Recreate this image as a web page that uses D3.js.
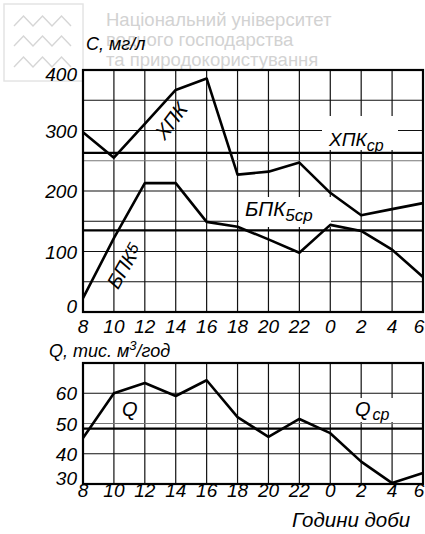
<!DOCTYPE html>
<html>
<head>
<meta charset="utf-8">
<script src="https://cdn.jsdelivr.net/npm/d3@7"></script>
<style>
  body { margin: 0; background: #fff; }
  svg { display: block; }
  text { font-family: "Liberation Sans", Arial, sans-serif; }
</style>
</head>
<body>
<script>
var hours = ["8", "10", "12", "14", "16", "18", "20", "22", "0", "2", "4", "6"];
var hpk = [297, 255, 311, 367, 386, 227, 232, 247, 197, 160, 170, 180];
var bpk = [23, 122, 213, 213, 149, 141, 120, 98, 144, 134, 103, 58];
var q = [45.2, 60, 63.4, 59.1, 64.3, 52.1, 45.6, 51.5, 46.8, 37.4, 30.3, 33.6];
var hpkMean = 263, bpkMean = 135, qMean = 48.3;
var cTicks = [0, 100, 200, 300, 400];
var cGrid = [50, 100, 150, 200, 250, 300, 350];
var qTicks = [30, 40, 50, 60];
var qGrid = [40, 50, 60];
var watermark = ["Національний університет", "водного господарства", "та природокористування"];

var width = 425, height = 534;
var svg = d3.select("body").append("svg")
    .attr("width", width)
    .attr("height", height);

// watermark
var wm = svg.append("g").attr("fill", "#d2d2d2");
wm.append("rect")
    .attr("x", 4).attr("y", 4).attr("width", 79).attr("height", 77)
    .attr("fill", "none").attr("stroke", "#e4e4e4").attr("stroke-width", 1.5);
[22, 42, 63].forEach(function (yy) {
    var pts = [];
    for (var i = 0; i <= 6; i++) pts.push([14 + i * 9.5, yy + (i % 2 ? -6 : 4)]);
    wm.append("path").attr("d", d3.line()(pts))
        .attr("fill", "none").attr("stroke", "#d6d6d6").attr("stroke-width", 1.4);
});
wm.selectAll("text.wm")
    .data(watermark)
    .join("text")
    .attr("class", "wm")
    .attr("x", 106)
    .attr("y", (d, i) => 26 + i * 20)
    .attr("font-family", "'Noto Sans', sans-serif")
    .attr("font-size", 18.5)
    .text(d => d);

var x = d3.scalePoint(hours, [83, 423]);
var yC = d3.scaleLinear([0, 400], [312, 70]);
var yQ = d3.scaleLinear([30, 70], [484, 363]);

function panel(y, grid, greyVal) {
    var g = svg.append("g");
    g.selectAll("line.v")
        .data(hours.slice(1, -1))
        .join("line")
        .attr("x1", d => x(d)).attr("x2", d => x(d))
        .attr("y1", y.range()[1]).attr("y2", y.range()[0])
        .attr("stroke", "#111").attr("stroke-width", 1.2);
    g.selectAll("line.h")
        .data(grid)
        .join("line")
        .attr("x1", 83).attr("x2", 423)
        .attr("y1", d => y(d)).attr("y2", d => y(d))
        .attr("stroke", d => d === greyVal ? "#777" : "#111")
        .attr("stroke-width", 1.2);
    return g;
}

function frame(y) {
    svg.append("rect")
        .attr("x", 83).attr("y", y.range()[1])
        .attr("width", 340).attr("height", y.range()[0] - y.range()[1])
        .attr("fill", "none").attr("stroke", "#000").attr("stroke-width", 2.2);
}

function italic(sel) {
    return sel.attr("font-style", "italic").attr("fill", "#000");
}

function whiteBox(x0, y0, w, h) {
    svg.append("rect").attr("x", x0).attr("y", y0).attr("width", w).attr("height", h).attr("fill", "#fff");
}

var line = function (y) {
    return d3.line().x((d, i) => x(hours[i])).y(d => y(d));
};

// top panel
panel(yC, cGrid, 250);
whiteBox(322, 116, 76, 34);
whiteBox(239, 197, 92, 30);
svg.append("path").datum(hpk).attr("d", line(yC))
    .attr("fill", "none").attr("stroke", "#000").attr("stroke-width", 2.6).attr("stroke-linejoin", "round");
svg.append("path").datum(bpk).attr("d", line(yC))
    .attr("fill", "none").attr("stroke", "#000").attr("stroke-width", 2.6).attr("stroke-linejoin", "round");
[hpkMean, bpkMean].forEach(function (m) {
    svg.append("line").attr("x1", 83).attr("x2", 423).attr("y1", yC(m)).attr("y2", yC(m))
        .attr("stroke", "#000").attr("stroke-width", 2.4);
});
frame(yC);

// bottom panel
panel(yQ, qGrid, 50);
whiteBox(350, 398, 53, 24);
svg.append("path").datum(q).attr("d", line(yQ))
    .attr("fill", "none").attr("stroke", "#000").attr("stroke-width", 2.6).attr("stroke-linejoin", "round");
svg.append("line").attr("x1", 83).attr("x2", 423).attr("y1", yQ(qMean)).attr("y2", yQ(qMean))
    .attr("stroke", "#000").attr("stroke-width", 2.4);
frame(yQ);

// y tick labels
italic(svg.selectAll("text.yc").data(cTicks).join("text"))
    .attr("x", 77).attr("text-anchor", "end").attr("font-size", 19)
    .attr("y", d => yC(d) + 7 + (d === 0 ? -6 : d === 400 ? 4 : 0))
    .text(d => d);
italic(svg.selectAll("text.yq").data(qTicks).join("text"))
    .attr("x", 77).attr("text-anchor", "end").attr("font-size", 19)
    .attr("y", d => yQ(d) + 7 + (d === 30 ? -6 : 0))
    .text(d => d);

// x tick labels
[333, 497].forEach(function (base) {
    italic(svg.selectAll("text.x" + base).data(hours).join("text"))
        .attr("x", (d, i) => x(d) + (i === hours.length - 1 ? -4 : 0))
        .attr("y", base).attr("text-anchor", "middle").attr("font-size", 19)
        .text(d => d);
});

// axis titles
italic(svg.append("text")).attr("x", 86).attr("y", 50).attr("font-size", 18).text("С, мг/л");
var qt = italic(svg.append("text")).attr("x", 49).attr("y", 357).attr("font-size", 18);
qt.append("tspan").text("Q, тис. м");
qt.append("tspan").attr("font-size", 13).attr("dy", -7).text("3");
qt.append("tspan").attr("dy", 7).text("/год");
italic(svg.append("text")).attr("x", 292).attr("y", 527).attr("font-size", 20.5).text("Години доби");

// series labels
var t1 = italic(svg.append("text")).attr("font-size", 20)
    .attr("transform", "translate(171,121) rotate(-53)").attr("text-anchor", "middle").attr("dy", 7);
t1.text("ХПК");
var t2 = italic(svg.append("text")).attr("x", 329).attr("y", 146).attr("font-size", 19);
t2.append("tspan").text("ХПК");
t2.append("tspan").attr("font-size", 16).attr("dy", 5).text("ср");
var t3 = italic(svg.append("text")).attr("x", 245).attr("y", 216).attr("font-size", 20.5);
t3.append("tspan").text("БПК");
t3.append("tspan").attr("font-size", 17).attr("dy", 5).text("5ср");
var t4 = italic(svg.append("text")).attr("font-size", 20)
    .attr("transform", "translate(124,266) rotate(-60)").attr("text-anchor", "middle").attr("dy", 7);
t4.append("tspan").text("БПК");
t4.append("tspan").attr("font-size", 16).attr("dy", -3).text("5");
italic(svg.append("text")).attr("x", 122).attr("y", 416).attr("font-size", 20).text("Q");
var t5 = italic(svg.append("text")).attr("x", 355).attr("y", 416).attr("font-size", 20);
t5.append("tspan").text("Q");
t5.append("tspan").attr("font-size", 16).attr("dy", 4).attr("dx", 2).text("ср");
</script>
</body>
</html>
